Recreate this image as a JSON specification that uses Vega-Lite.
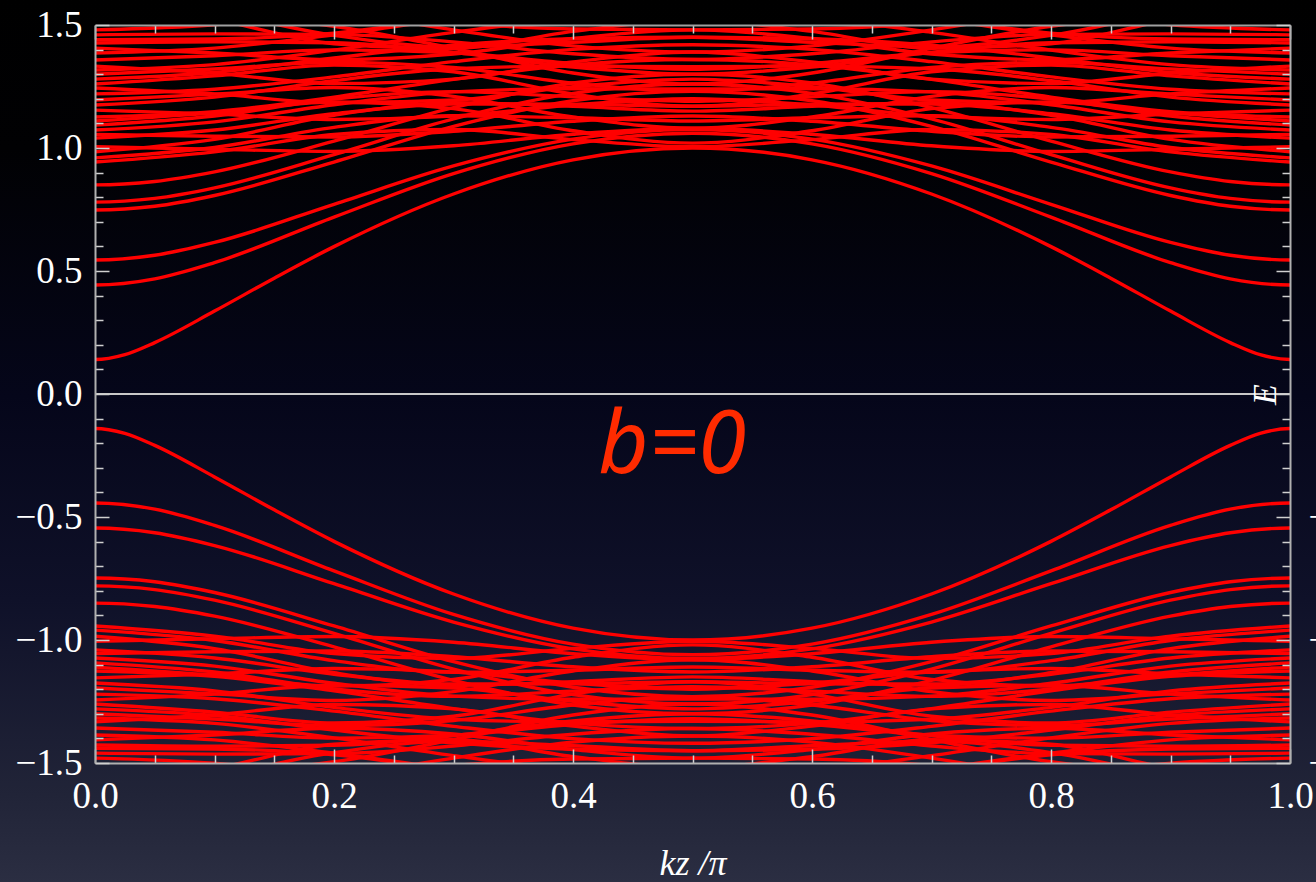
{
"$schema": "https://vega.github.io/schema/vega-lite/v6.json",
"width": 1195,
"height": 738,
"autosize": {"type": "none"},
"padding": {"left": 95, "top": 25, "right": 26, "bottom": 119},
"background": "#05061a",
"config": {"view": {"stroke": null}},
"resolve": {"axis": {"x": "independent", "y": "independent"}},
"layer": [
{
"data": {"values": [{}]},
"mark": {"type": "rect", "clip": false, "fill": {"gradient": "linear", "x1": 0, "y1": 0, "x2": 0, "y2": 1, "stops": [{"offset": 0, "color": "#000000"}, {"offset": 0.17, "color": "#010103"}, {"offset": 0.45, "color": "#05061a"}, {"offset": 0.68, "color": "#0f1129"}, {"offset": 0.9, "color": "#212438"}, {"offset": 1, "color": "#2b2e42"}]}},
"encoding": {
"x": {"datum": -0.08, "type": "quantitative", "axis": null, "scale": {"domain": [0, 1], "nice": false, "zero": false}},
"x2": {"datum": 1.025},
"y": {"datum": 1.61, "type": "quantitative", "axis": null, "scale": {"domain": [-1.5, 1.5], "nice": false, "zero": false}},
"y2": {"datum": -1.99}
}
},
{
"data": {"values": [
{"k":-0.05,"E":0.209,"n":1},{"k":-0.025,"E":0.16,"n":1},{"k":0,"E":0.14,"n":1},{"k":0.025,"E":0.16,"n":1},{"k":0.05,"E":0.209,"n":1},{"k":0.1,"E":0.337,"n":1},{"k":0.15,"E":0.471,"n":1},{"k":0.2,"E":0.599,"n":1},{"k":0.3,"E":0.813,"n":1},{"k":0.4,"E":0.952,"n":1},{"k":0.5,"E":1.0,"n":1},{"k":0.6,"E":0.952,"n":1},{"k":0.7,"E":0.813,"n":1},{"k":0.8,"E":0.599,"n":1},{"k":0.85,"E":0.471,"n":1},{"k":0.9,"E":0.337,"n":1},{"k":0.95,"E":0.209,"n":1},{"k":0.975,"E":0.16,"n":1},{"k":1,"E":0.14,"n":1},{"k":1.025,"E":0.16,"n":1},{"k":1.05,"E":0.209,"n":1},
{"k":-0.05,"E":0.468,"n":2},{"k":0,"E":0.443,"n":2},{"k":0.05,"E":0.468,"n":2},{"k":0.1,"E":0.534,"n":2},{"k":0.2,"E":0.719,"n":2},{"k":0.3,"E":0.896,"n":2},{"k":0.4,"E":1.017,"n":2},{"k":0.5,"E":1.06,"n":2},{"k":0.6,"E":1.017,"n":2},{"k":0.7,"E":0.896,"n":2},{"k":0.8,"E":0.719,"n":2},{"k":0.9,"E":0.534,"n":2},{"k":0.95,"E":0.468,"n":2},{"k":1,"E":0.443,"n":2},{"k":1.05,"E":0.468,"n":2},
{"k":-0.05,"E":0.564,"n":3},{"k":0,"E":0.545,"n":3},{"k":0.05,"E":0.564,"n":3},{"k":0.1,"E":0.616,"n":3},{"k":0.2,"E":0.771,"n":3},{"k":0.3,"E":0.927,"n":3},{"k":0.4,"E":1.036,"n":3},{"k":0.5,"E":1.075,"n":3},{"k":0.6,"E":1.036,"n":3},{"k":0.7,"E":0.927,"n":3},{"k":0.8,"E":0.771,"n":3},{"k":0.9,"E":0.616,"n":3},{"k":0.95,"E":0.564,"n":3},{"k":1,"E":0.545,"n":3},{"k":1.05,"E":0.564,"n":3},
{"k":-0.05,"E":0.763,"n":4},{"k":0,"E":0.748,"n":4},{"k":0.05,"E":0.763,"n":4},{"k":0.1,"E":0.807,"n":4},{"k":0.2,"E":0.943,"n":4},{"k":0.3,"E":1.088,"n":4},{"k":0.4,"E":1.192,"n":4},{"k":0.5,"E":1.23,"n":4},{"k":0.6,"E":1.192,"n":4},{"k":0.7,"E":1.088,"n":4},{"k":0.8,"E":0.943,"n":4},{"k":0.9,"E":0.807,"n":4},{"k":0.95,"E":0.763,"n":4},{"k":1,"E":0.748,"n":4},{"k":1.05,"E":0.763,"n":4},
{"k":-0.05,"E":0.795,"n":5},{"k":0,"E":0.78,"n":5},{"k":0.05,"E":0.795,"n":5},{"k":0.1,"E":0.838,"n":5},{"k":0.2,"E":0.973,"n":5},{"k":0.3,"E":1.118,"n":5},{"k":0.4,"E":1.222,"n":5},{"k":0.5,"E":1.26,"n":5},{"k":0.6,"E":1.222,"n":5},{"k":0.7,"E":1.118,"n":5},{"k":0.8,"E":0.973,"n":5},{"k":0.9,"E":0.838,"n":5},{"k":0.95,"E":0.795,"n":5},{"k":1,"E":0.78,"n":5},{"k":1.05,"E":0.795,"n":5},
{"k":-0.05,"E":0.864,"n":6},{"k":0,"E":0.85,"n":6},{"k":0.05,"E":0.864,"n":6},{"k":0.1,"E":0.903,"n":6},{"k":0.2,"E":1.028,"n":6},{"k":0.3,"E":1.164,"n":6},{"k":0.4,"E":1.264,"n":6},{"k":0.5,"E":1.3,"n":6},{"k":0.6,"E":1.264,"n":6},{"k":0.7,"E":1.164,"n":6},{"k":0.8,"E":1.028,"n":6},{"k":0.9,"E":0.903,"n":6},{"k":0.95,"E":0.864,"n":6},{"k":1,"E":0.85,"n":6},{"k":1.05,"E":0.864,"n":6},
{"k":0,"E":0.943,"n":7},{"k":0.1,"E":0.984,"n":7},{"k":0.2,"E":1.055,"n":7},{"k":0.3,"E":1.075,"n":7},{"k":0.4,"E":1.034,"n":7},{"k":0.5,"E":1.005,"n":7},{"k":0.6,"E":1.034,"n":7},{"k":0.7,"E":1.075,"n":7},{"k":0.8,"E":1.055,"n":7},{"k":0.9,"E":0.984,"n":7},{"k":1,"E":0.943,"n":7},
{"k":0,"E":0.96,"n":8},{"k":0.1,"E":1.002,"n":8},{"k":0.2,"E":1.084,"n":8},{"k":0.3,"E":1.131,"n":8},{"k":0.4,"E":1.123,"n":8},{"k":0.5,"E":1.11,"n":8},{"k":0.6,"E":1.123,"n":8},{"k":0.7,"E":1.131,"n":8},{"k":0.8,"E":1.084,"n":8},{"k":0.9,"E":1.002,"n":8},{"k":1,"E":0.96,"n":8},
{"k":0,"E":0.985,"n":9},{"k":0.1,"E":1.035,"n":9},{"k":0.2,"E":1.133,"n":9},{"k":0.3,"E":1.184,"n":9},{"k":0.4,"E":1.169,"n":9},{"k":0.5,"E":1.15,"n":9},{"k":0.6,"E":1.169,"n":9},{"k":0.7,"E":1.184,"n":9},{"k":0.8,"E":1.133,"n":9},{"k":0.9,"E":1.035,"n":9},{"k":1,"E":0.985,"n":9},
{"k":0,"E":1.005,"n":10},{"k":0.1,"E":0.995,"n":10},{"k":0.2,"E":0.986,"n":10},{"k":0.3,"E":1.009,"n":10},{"k":0.4,"E":1.056,"n":10},{"k":0.5,"E":1.08,"n":10},{"k":0.6,"E":1.056,"n":10},{"k":0.7,"E":1.009,"n":10},{"k":0.8,"E":0.986,"n":10},{"k":0.9,"E":0.995,"n":10},{"k":1,"E":1.005,"n":10},
{"k":0,"E":1.04,"n":11},{"k":0.1,"E":1.073,"n":11},{"k":0.2,"E":1.139,"n":11},{"k":0.3,"E":1.179,"n":11},{"k":0.4,"E":1.178,"n":11},{"k":0.5,"E":1.17,"n":11},{"k":0.6,"E":1.178,"n":11},{"k":0.7,"E":1.179,"n":11},{"k":0.8,"E":1.139,"n":11},{"k":0.9,"E":1.073,"n":11},{"k":1,"E":1.04,"n":11},
{"k":0,"E":1.055,"n":12},{"k":0.1,"E":1.048,"n":12},{"k":0.2,"E":1.045,"n":12},{"k":0.3,"E":1.068,"n":12},{"k":0.4,"E":1.109,"n":12},{"k":0.5,"E":1.13,"n":12},{"k":0.6,"E":1.109,"n":12},{"k":0.7,"E":1.068,"n":12},{"k":0.8,"E":1.045,"n":12},{"k":0.9,"E":1.048,"n":12},{"k":1,"E":1.055,"n":12},
{"k":0,"E":1.073,"n":13},{"k":0.1,"E":1.106,"n":13},{"k":0.2,"E":1.176,"n":13},{"k":0.3,"E":1.228,"n":13},{"k":0.4,"E":1.241,"n":13},{"k":0.5,"E":1.24,"n":13},{"k":0.6,"E":1.241,"n":13},{"k":0.7,"E":1.228,"n":13},{"k":0.8,"E":1.176,"n":13},{"k":0.9,"E":1.106,"n":13},{"k":1,"E":1.073,"n":13},
{"k":0,"E":1.093,"n":14},{"k":0.1,"E":1.13,"n":14},{"k":0.2,"E":1.199,"n":14},{"k":0.3,"E":1.229,"n":14},{"k":0.4,"E":1.208,"n":14},{"k":0.5,"E":1.19,"n":14},{"k":0.6,"E":1.208,"n":14},{"k":0.7,"E":1.229,"n":14},{"k":0.8,"E":1.199,"n":14},{"k":0.9,"E":1.13,"n":14},{"k":1,"E":1.093,"n":14},
{"k":0,"E":1.11,"n":15},{"k":0.1,"E":1.143,"n":15},{"k":0.2,"E":1.187,"n":15},{"k":0.3,"E":1.16,"n":15},{"k":0.4,"E":1.07,"n":15},{"k":0.5,"E":1.02,"n":15},{"k":0.6,"E":1.07,"n":15},{"k":0.7,"E":1.16,"n":15},{"k":0.8,"E":1.187,"n":15},{"k":0.9,"E":1.143,"n":15},{"k":1,"E":1.11,"n":15},
{"k":0,"E":1.126,"n":16},{"k":0.1,"E":1.148,"n":16},{"k":0.2,"E":1.207,"n":16},{"k":0.3,"E":1.279,"n":16},{"k":0.4,"E":1.338,"n":16},{"k":0.5,"E":1.36,"n":16},{"k":0.6,"E":1.338,"n":16},{"k":0.7,"E":1.279,"n":16},{"k":0.8,"E":1.207,"n":16},{"k":0.9,"E":1.148,"n":16},{"k":1,"E":1.126,"n":16},
{"k":0,"E":1.154,"n":17},{"k":0.1,"E":1.138,"n":17},{"k":0.2,"E":1.116,"n":17},{"k":0.3,"E":1.13,"n":17},{"k":0.4,"E":1.175,"n":17},{"k":0.5,"E":1.2,"n":17},{"k":0.6,"E":1.175,"n":17},{"k":0.7,"E":1.13,"n":17},{"k":0.8,"E":1.116,"n":17},{"k":0.9,"E":1.138,"n":17},{"k":1,"E":1.154,"n":17},
{"k":0,"E":1.175,"n":18},{"k":0.1,"E":1.207,"n":18},{"k":0.2,"E":1.274,"n":18},{"k":0.3,"E":1.322,"n":18},{"k":0.4,"E":1.333,"n":18},{"k":0.5,"E":1.33,"n":18},{"k":0.6,"E":1.333,"n":18},{"k":0.7,"E":1.322,"n":18},{"k":0.8,"E":1.274,"n":18},{"k":0.9,"E":1.207,"n":18},{"k":1,"E":1.175,"n":18},
{"k":0,"E":1.195,"n":19},{"k":0.1,"E":1.219,"n":19},{"k":0.2,"E":1.246,"n":19},{"k":0.3,"E":1.21,"n":19},{"k":0.4,"E":1.126,"n":19},{"k":0.5,"E":1.08,"n":19},{"k":0.6,"E":1.126,"n":19},{"k":0.7,"E":1.21,"n":19},{"k":0.8,"E":1.246,"n":19},{"k":0.9,"E":1.219,"n":19},{"k":1,"E":1.195,"n":19},
{"k":0,"E":1.22,"n":20},{"k":0.1,"E":1.239,"n":20},{"k":0.2,"E":1.289,"n":20},{"k":0.3,"E":1.351,"n":20},{"k":0.4,"E":1.401,"n":20},{"k":0.5,"E":1.42,"n":20},{"k":0.6,"E":1.401,"n":20},{"k":0.7,"E":1.351,"n":20},{"k":0.8,"E":1.289,"n":20},{"k":0.9,"E":1.239,"n":20},{"k":1,"E":1.22,"n":20},
{"k":0,"E":1.244,"n":21},{"k":0.1,"E":1.22,"n":21},{"k":0.2,"E":1.184,"n":21},{"k":0.3,"E":1.195,"n":21},{"k":0.4,"E":1.249,"n":21},{"k":0.5,"E":1.28,"n":21},{"k":0.6,"E":1.249,"n":21},{"k":0.7,"E":1.195,"n":21},{"k":0.8,"E":1.184,"n":21},{"k":0.9,"E":1.22,"n":21},{"k":1,"E":1.244,"n":21},
{"k":0,"E":1.26,"n":22},{"k":0.1,"E":1.293,"n":22},{"k":0.2,"E":1.337,"n":22},{"k":0.3,"E":1.31,"n":22},{"k":0.4,"E":1.22,"n":22},{"k":0.5,"E":1.17,"n":22},{"k":0.6,"E":1.22,"n":22},{"k":0.7,"E":1.31,"n":22},{"k":0.8,"E":1.337,"n":22},{"k":0.9,"E":1.293,"n":22},{"k":1,"E":1.26,"n":22},
{"k":0,"E":1.28,"n":23},{"k":0.1,"E":1.307,"n":23},{"k":0.2,"E":1.366,"n":23},{"k":0.3,"E":1.418,"n":23},{"k":0.4,"E":1.444,"n":23},{"k":0.5,"E":1.45,"n":23},{"k":0.6,"E":1.444,"n":23},{"k":0.7,"E":1.418,"n":23},{"k":0.8,"E":1.366,"n":23},{"k":0.9,"E":1.307,"n":23},{"k":1,"E":1.28,"n":23},
{"k":0,"E":1.3,"n":24},{"k":0.1,"E":1.321,"n":24},{"k":0.2,"E":1.348,"n":24},{"k":0.3,"E":1.327,"n":24},{"k":0.4,"E":1.264,"n":24},{"k":0.5,"E":1.23,"n":24},{"k":0.6,"E":1.264,"n":24},{"k":0.7,"E":1.327,"n":24},{"k":0.8,"E":1.348,"n":24},{"k":0.9,"E":1.321,"n":24},{"k":1,"E":1.3,"n":24},
{"k":0,"E":1.317,"n":25},{"k":0.1,"E":1.339,"n":25},{"k":0.2,"E":1.398,"n":25},{"k":0.3,"E":1.47,"n":25},{"k":0.4,"E":1.528,"n":25},{"k":0.5,"E":1.55,"n":25},{"k":0.6,"E":1.528,"n":25},{"k":0.7,"E":1.47,"n":25},{"k":0.8,"E":1.398,"n":25},{"k":0.9,"E":1.339,"n":25},{"k":1,"E":1.317,"n":25},
{"k":0,"E":1.333,"n":26},{"k":0.1,"E":1.304,"n":26},{"k":0.2,"E":1.262,"n":26},{"k":0.3,"E":1.28,"n":26},{"k":0.4,"E":1.35,"n":26},{"k":0.5,"E":1.39,"n":26},{"k":0.6,"E":1.35,"n":26},{"k":0.7,"E":1.28,"n":26},{"k":0.8,"E":1.262,"n":26},{"k":0.9,"E":1.304,"n":26},{"k":1,"E":1.333,"n":26},
{"k":0,"E":1.358,"n":27},{"k":0.1,"E":1.375,"n":27},{"k":0.2,"E":1.399,"n":27},{"k":0.3,"E":1.387,"n":27},{"k":0.4,"E":1.344,"n":27},{"k":0.5,"E":1.32,"n":27},{"k":0.6,"E":1.344,"n":27},{"k":0.7,"E":1.387,"n":27},{"k":0.8,"E":1.399,"n":27},{"k":0.9,"E":1.375,"n":27},{"k":1,"E":1.358,"n":27},
{"k":0,"E":1.386,"n":28},{"k":0.1,"E":1.406,"n":28},{"k":0.2,"E":1.46,"n":28},{"k":0.3,"E":1.526,"n":28},{"k":0.4,"E":1.58,"n":28},{"k":0.5,"E":1.6,"n":28},{"k":0.6,"E":1.58,"n":28},{"k":0.7,"E":1.526,"n":28},{"k":0.8,"E":1.46,"n":28},{"k":0.9,"E":1.406,"n":28},{"k":1,"E":1.386,"n":28},
{"k":0,"E":1.406,"n":29},{"k":0.1,"E":1.386,"n":29},{"k":0.2,"E":1.359,"n":29},{"k":0.3,"E":1.382,"n":29},{"k":0.4,"E":1.445,"n":29},{"k":0.5,"E":1.48,"n":29},{"k":0.6,"E":1.445,"n":29},{"k":0.7,"E":1.382,"n":29},{"k":0.8,"E":1.359,"n":29},{"k":0.9,"E":1.386,"n":29},{"k":1,"E":1.406,"n":29},
{"k":0,"E":1.427,"n":30},{"k":0.1,"E":1.432,"n":30},{"k":0.2,"E":1.428,"n":30},{"k":0.3,"E":1.389,"n":30},{"k":0.4,"E":1.329,"n":30},{"k":0.5,"E":1.3,"n":30},{"k":0.6,"E":1.329,"n":30},{"k":0.7,"E":1.389,"n":30},{"k":0.8,"E":1.428,"n":30},{"k":0.9,"E":1.432,"n":30},{"k":1,"E":1.427,"n":30},
{"k":0,"E":1.44,"n":31},{"k":0.1,"E":1.443,"n":31},{"k":0.2,"E":1.467,"n":31},{"k":0.3,"E":1.532,"n":31},{"k":0.4,"E":1.613,"n":31},{"k":0.5,"E":1.65,"n":31},{"k":0.6,"E":1.613,"n":31},{"k":0.7,"E":1.532,"n":31},{"k":0.8,"E":1.467,"n":31},{"k":0.9,"E":1.443,"n":31},{"k":1,"E":1.44,"n":31},
{"k":0,"E":1.46,"n":32},{"k":0.1,"E":1.464,"n":32},{"k":0.2,"E":1.462,"n":32},{"k":0.3,"E":1.431,"n":32},{"k":0.4,"E":1.383,"n":32},{"k":0.5,"E":1.36,"n":32},{"k":0.6,"E":1.383,"n":32},{"k":0.7,"E":1.431,"n":32},{"k":0.8,"E":1.462,"n":32},{"k":0.9,"E":1.464,"n":32},{"k":1,"E":1.46,"n":32},
{"k":0,"E":1.48,"n":33},{"k":0.1,"E":1.501,"n":33},{"k":0.2,"E":1.556,"n":33},{"k":0.3,"E":1.624,"n":33},{"k":0.4,"E":1.679,"n":33},{"k":0.5,"E":1.7,"n":33},{"k":0.6,"E":1.679,"n":33},{"k":0.7,"E":1.624,"n":33},{"k":0.8,"E":1.556,"n":33},{"k":0.9,"E":1.501,"n":33},{"k":1,"E":1.48,"n":33},
{"k":0,"E":1.55,"n":34},{"k":0.1,"E":1.54,"n":34},{"k":0.2,"E":1.495,"n":34},{"k":0.3,"E":1.405,"n":34},{"k":0.4,"E":1.305,"n":34},{"k":0.5,"E":1.26,"n":34},{"k":0.6,"E":1.305,"n":34},{"k":0.7,"E":1.405,"n":34},{"k":0.8,"E":1.495,"n":34},{"k":0.9,"E":1.54,"n":34},{"k":1,"E":1.55,"n":34},
{"k":0,"E":1.6,"n":35},{"k":0.1,"E":1.551,"n":35},{"k":0.2,"E":1.458,"n":35},{"k":0.3,"E":1.411,"n":35},{"k":0.4,"E":1.43,"n":35},{"k":0.5,"E":1.45,"n":35},{"k":0.6,"E":1.43,"n":35},{"k":0.7,"E":1.411,"n":35},{"k":0.8,"E":1.458,"n":35},{"k":0.9,"E":1.551,"n":35},{"k":1,"E":1.6,"n":35},
{"k":0,"E":1.65,"n":36},{"k":0.1,"E":1.625,"n":36},{"k":0.2,"E":1.56,"n":36},{"k":0.3,"E":1.48,"n":36},{"k":0.4,"E":1.415,"n":36},{"k":0.5,"E":1.39,"n":36},{"k":0.6,"E":1.415,"n":36},{"k":0.7,"E":1.48,"n":36},{"k":0.8,"E":1.56,"n":36},{"k":0.9,"E":1.625,"n":36},{"k":1,"E":1.65,"n":36},
{"k":0,"E":1.7,"n":37},{"k":0.1,"E":1.662,"n":37},{"k":0.2,"E":1.579,"n":37},{"k":0.3,"E":1.511,"n":37},{"k":0.4,"E":1.484,"n":37},{"k":0.5,"E":1.48,"n":37},{"k":0.6,"E":1.484,"n":37},{"k":0.7,"E":1.511,"n":37},{"k":0.8,"E":1.579,"n":37},{"k":0.9,"E":1.662,"n":37},{"k":1,"E":1.7,"n":37},
{"k":0,"E":1.58,"n":38},{"k":0.1,"E":1.522,"n":38},{"k":0.2,"E":1.424,"n":38},{"k":0.3,"E":1.405,"n":38},{"k":0.4,"E":1.474,"n":38},{"k":0.5,"E":1.52,"n":38},{"k":0.6,"E":1.474,"n":38},{"k":0.7,"E":1.405,"n":38},{"k":0.8,"E":1.424,"n":38},{"k":0.9,"E":1.522,"n":38},{"k":1,"E":1.58,"n":38},
{"k":-0.05,"E":-0.209,"n":-1},{"k":-0.025,"E":-0.16,"n":-1},{"k":0,"E":-0.14,"n":-1},{"k":0.025,"E":-0.16,"n":-1},{"k":0.05,"E":-0.209,"n":-1},{"k":0.1,"E":-0.337,"n":-1},{"k":0.15,"E":-0.471,"n":-1},{"k":0.2,"E":-0.599,"n":-1},{"k":0.3,"E":-0.813,"n":-1},{"k":0.4,"E":-0.952,"n":-1},{"k":0.5,"E":-1.0,"n":-1},{"k":0.6,"E":-0.952,"n":-1},{"k":0.7,"E":-0.813,"n":-1},{"k":0.8,"E":-0.599,"n":-1},{"k":0.85,"E":-0.471,"n":-1},{"k":0.9,"E":-0.337,"n":-1},{"k":0.95,"E":-0.209,"n":-1},{"k":0.975,"E":-0.16,"n":-1},{"k":1,"E":-0.14,"n":-1},{"k":1.025,"E":-0.16,"n":-1},{"k":1.05,"E":-0.209,"n":-1},
{"k":-0.05,"E":-0.468,"n":-2},{"k":0,"E":-0.443,"n":-2},{"k":0.05,"E":-0.468,"n":-2},{"k":0.1,"E":-0.534,"n":-2},{"k":0.2,"E":-0.719,"n":-2},{"k":0.3,"E":-0.896,"n":-2},{"k":0.4,"E":-1.017,"n":-2},{"k":0.5,"E":-1.06,"n":-2},{"k":0.6,"E":-1.017,"n":-2},{"k":0.7,"E":-0.896,"n":-2},{"k":0.8,"E":-0.719,"n":-2},{"k":0.9,"E":-0.534,"n":-2},{"k":0.95,"E":-0.468,"n":-2},{"k":1,"E":-0.443,"n":-2},{"k":1.05,"E":-0.468,"n":-2},
{"k":-0.05,"E":-0.564,"n":-3},{"k":0,"E":-0.545,"n":-3},{"k":0.05,"E":-0.564,"n":-3},{"k":0.1,"E":-0.616,"n":-3},{"k":0.2,"E":-0.771,"n":-3},{"k":0.3,"E":-0.927,"n":-3},{"k":0.4,"E":-1.036,"n":-3},{"k":0.5,"E":-1.075,"n":-3},{"k":0.6,"E":-1.036,"n":-3},{"k":0.7,"E":-0.927,"n":-3},{"k":0.8,"E":-0.771,"n":-3},{"k":0.9,"E":-0.616,"n":-3},{"k":0.95,"E":-0.564,"n":-3},{"k":1,"E":-0.545,"n":-3},{"k":1.05,"E":-0.564,"n":-3},
{"k":-0.05,"E":-0.763,"n":-4},{"k":0,"E":-0.748,"n":-4},{"k":0.05,"E":-0.763,"n":-4},{"k":0.1,"E":-0.807,"n":-4},{"k":0.2,"E":-0.943,"n":-4},{"k":0.3,"E":-1.088,"n":-4},{"k":0.4,"E":-1.192,"n":-4},{"k":0.5,"E":-1.23,"n":-4},{"k":0.6,"E":-1.192,"n":-4},{"k":0.7,"E":-1.088,"n":-4},{"k":0.8,"E":-0.943,"n":-4},{"k":0.9,"E":-0.807,"n":-4},{"k":0.95,"E":-0.763,"n":-4},{"k":1,"E":-0.748,"n":-4},{"k":1.05,"E":-0.763,"n":-4},
{"k":-0.05,"E":-0.795,"n":-5},{"k":0,"E":-0.78,"n":-5},{"k":0.05,"E":-0.795,"n":-5},{"k":0.1,"E":-0.838,"n":-5},{"k":0.2,"E":-0.973,"n":-5},{"k":0.3,"E":-1.118,"n":-5},{"k":0.4,"E":-1.222,"n":-5},{"k":0.5,"E":-1.26,"n":-5},{"k":0.6,"E":-1.222,"n":-5},{"k":0.7,"E":-1.118,"n":-5},{"k":0.8,"E":-0.973,"n":-5},{"k":0.9,"E":-0.838,"n":-5},{"k":0.95,"E":-0.795,"n":-5},{"k":1,"E":-0.78,"n":-5},{"k":1.05,"E":-0.795,"n":-5},
{"k":-0.05,"E":-0.864,"n":-6},{"k":0,"E":-0.85,"n":-6},{"k":0.05,"E":-0.864,"n":-6},{"k":0.1,"E":-0.903,"n":-6},{"k":0.2,"E":-1.028,"n":-6},{"k":0.3,"E":-1.164,"n":-6},{"k":0.4,"E":-1.264,"n":-6},{"k":0.5,"E":-1.3,"n":-6},{"k":0.6,"E":-1.264,"n":-6},{"k":0.7,"E":-1.164,"n":-6},{"k":0.8,"E":-1.028,"n":-6},{"k":0.9,"E":-0.903,"n":-6},{"k":0.95,"E":-0.864,"n":-6},{"k":1,"E":-0.85,"n":-6},{"k":1.05,"E":-0.864,"n":-6},
{"k":0,"E":-0.943,"n":-7},{"k":0.1,"E":-0.984,"n":-7},{"k":0.2,"E":-1.055,"n":-7},{"k":0.3,"E":-1.075,"n":-7},{"k":0.4,"E":-1.034,"n":-7},{"k":0.5,"E":-1.005,"n":-7},{"k":0.6,"E":-1.034,"n":-7},{"k":0.7,"E":-1.075,"n":-7},{"k":0.8,"E":-1.055,"n":-7},{"k":0.9,"E":-0.984,"n":-7},{"k":1,"E":-0.943,"n":-7},
{"k":0,"E":-0.96,"n":-8},{"k":0.1,"E":-1.002,"n":-8},{"k":0.2,"E":-1.084,"n":-8},{"k":0.3,"E":-1.131,"n":-8},{"k":0.4,"E":-1.123,"n":-8},{"k":0.5,"E":-1.11,"n":-8},{"k":0.6,"E":-1.123,"n":-8},{"k":0.7,"E":-1.131,"n":-8},{"k":0.8,"E":-1.084,"n":-8},{"k":0.9,"E":-1.002,"n":-8},{"k":1,"E":-0.96,"n":-8},
{"k":0,"E":-0.985,"n":-9},{"k":0.1,"E":-1.035,"n":-9},{"k":0.2,"E":-1.133,"n":-9},{"k":0.3,"E":-1.184,"n":-9},{"k":0.4,"E":-1.169,"n":-9},{"k":0.5,"E":-1.15,"n":-9},{"k":0.6,"E":-1.169,"n":-9},{"k":0.7,"E":-1.184,"n":-9},{"k":0.8,"E":-1.133,"n":-9},{"k":0.9,"E":-1.035,"n":-9},{"k":1,"E":-0.985,"n":-9},
{"k":0,"E":-1.005,"n":-10},{"k":0.1,"E":-0.995,"n":-10},{"k":0.2,"E":-0.986,"n":-10},{"k":0.3,"E":-1.009,"n":-10},{"k":0.4,"E":-1.056,"n":-10},{"k":0.5,"E":-1.08,"n":-10},{"k":0.6,"E":-1.056,"n":-10},{"k":0.7,"E":-1.009,"n":-10},{"k":0.8,"E":-0.986,"n":-10},{"k":0.9,"E":-0.995,"n":-10},{"k":1,"E":-1.005,"n":-10},
{"k":0,"E":-1.04,"n":-11},{"k":0.1,"E":-1.073,"n":-11},{"k":0.2,"E":-1.139,"n":-11},{"k":0.3,"E":-1.179,"n":-11},{"k":0.4,"E":-1.178,"n":-11},{"k":0.5,"E":-1.17,"n":-11},{"k":0.6,"E":-1.178,"n":-11},{"k":0.7,"E":-1.179,"n":-11},{"k":0.8,"E":-1.139,"n":-11},{"k":0.9,"E":-1.073,"n":-11},{"k":1,"E":-1.04,"n":-11},
{"k":0,"E":-1.055,"n":-12},{"k":0.1,"E":-1.048,"n":-12},{"k":0.2,"E":-1.045,"n":-12},{"k":0.3,"E":-1.068,"n":-12},{"k":0.4,"E":-1.109,"n":-12},{"k":0.5,"E":-1.13,"n":-12},{"k":0.6,"E":-1.109,"n":-12},{"k":0.7,"E":-1.068,"n":-12},{"k":0.8,"E":-1.045,"n":-12},{"k":0.9,"E":-1.048,"n":-12},{"k":1,"E":-1.055,"n":-12},
{"k":0,"E":-1.073,"n":-13},{"k":0.1,"E":-1.106,"n":-13},{"k":0.2,"E":-1.176,"n":-13},{"k":0.3,"E":-1.228,"n":-13},{"k":0.4,"E":-1.241,"n":-13},{"k":0.5,"E":-1.24,"n":-13},{"k":0.6,"E":-1.241,"n":-13},{"k":0.7,"E":-1.228,"n":-13},{"k":0.8,"E":-1.176,"n":-13},{"k":0.9,"E":-1.106,"n":-13},{"k":1,"E":-1.073,"n":-13},
{"k":0,"E":-1.093,"n":-14},{"k":0.1,"E":-1.13,"n":-14},{"k":0.2,"E":-1.199,"n":-14},{"k":0.3,"E":-1.229,"n":-14},{"k":0.4,"E":-1.208,"n":-14},{"k":0.5,"E":-1.19,"n":-14},{"k":0.6,"E":-1.208,"n":-14},{"k":0.7,"E":-1.229,"n":-14},{"k":0.8,"E":-1.199,"n":-14},{"k":0.9,"E":-1.13,"n":-14},{"k":1,"E":-1.093,"n":-14},
{"k":0,"E":-1.11,"n":-15},{"k":0.1,"E":-1.143,"n":-15},{"k":0.2,"E":-1.187,"n":-15},{"k":0.3,"E":-1.16,"n":-15},{"k":0.4,"E":-1.07,"n":-15},{"k":0.5,"E":-1.02,"n":-15},{"k":0.6,"E":-1.07,"n":-15},{"k":0.7,"E":-1.16,"n":-15},{"k":0.8,"E":-1.187,"n":-15},{"k":0.9,"E":-1.143,"n":-15},{"k":1,"E":-1.11,"n":-15},
{"k":0,"E":-1.126,"n":-16},{"k":0.1,"E":-1.148,"n":-16},{"k":0.2,"E":-1.207,"n":-16},{"k":0.3,"E":-1.279,"n":-16},{"k":0.4,"E":-1.338,"n":-16},{"k":0.5,"E":-1.36,"n":-16},{"k":0.6,"E":-1.338,"n":-16},{"k":0.7,"E":-1.279,"n":-16},{"k":0.8,"E":-1.207,"n":-16},{"k":0.9,"E":-1.148,"n":-16},{"k":1,"E":-1.126,"n":-16},
{"k":0,"E":-1.154,"n":-17},{"k":0.1,"E":-1.138,"n":-17},{"k":0.2,"E":-1.116,"n":-17},{"k":0.3,"E":-1.13,"n":-17},{"k":0.4,"E":-1.175,"n":-17},{"k":0.5,"E":-1.2,"n":-17},{"k":0.6,"E":-1.175,"n":-17},{"k":0.7,"E":-1.13,"n":-17},{"k":0.8,"E":-1.116,"n":-17},{"k":0.9,"E":-1.138,"n":-17},{"k":1,"E":-1.154,"n":-17},
{"k":0,"E":-1.175,"n":-18},{"k":0.1,"E":-1.207,"n":-18},{"k":0.2,"E":-1.274,"n":-18},{"k":0.3,"E":-1.322,"n":-18},{"k":0.4,"E":-1.333,"n":-18},{"k":0.5,"E":-1.33,"n":-18},{"k":0.6,"E":-1.333,"n":-18},{"k":0.7,"E":-1.322,"n":-18},{"k":0.8,"E":-1.274,"n":-18},{"k":0.9,"E":-1.207,"n":-18},{"k":1,"E":-1.175,"n":-18},
{"k":0,"E":-1.195,"n":-19},{"k":0.1,"E":-1.219,"n":-19},{"k":0.2,"E":-1.246,"n":-19},{"k":0.3,"E":-1.21,"n":-19},{"k":0.4,"E":-1.126,"n":-19},{"k":0.5,"E":-1.08,"n":-19},{"k":0.6,"E":-1.126,"n":-19},{"k":0.7,"E":-1.21,"n":-19},{"k":0.8,"E":-1.246,"n":-19},{"k":0.9,"E":-1.219,"n":-19},{"k":1,"E":-1.195,"n":-19},
{"k":0,"E":-1.22,"n":-20},{"k":0.1,"E":-1.239,"n":-20},{"k":0.2,"E":-1.289,"n":-20},{"k":0.3,"E":-1.351,"n":-20},{"k":0.4,"E":-1.401,"n":-20},{"k":0.5,"E":-1.42,"n":-20},{"k":0.6,"E":-1.401,"n":-20},{"k":0.7,"E":-1.351,"n":-20},{"k":0.8,"E":-1.289,"n":-20},{"k":0.9,"E":-1.239,"n":-20},{"k":1,"E":-1.22,"n":-20},
{"k":0,"E":-1.244,"n":-21},{"k":0.1,"E":-1.22,"n":-21},{"k":0.2,"E":-1.184,"n":-21},{"k":0.3,"E":-1.195,"n":-21},{"k":0.4,"E":-1.249,"n":-21},{"k":0.5,"E":-1.28,"n":-21},{"k":0.6,"E":-1.249,"n":-21},{"k":0.7,"E":-1.195,"n":-21},{"k":0.8,"E":-1.184,"n":-21},{"k":0.9,"E":-1.22,"n":-21},{"k":1,"E":-1.244,"n":-21},
{"k":0,"E":-1.26,"n":-22},{"k":0.1,"E":-1.293,"n":-22},{"k":0.2,"E":-1.337,"n":-22},{"k":0.3,"E":-1.31,"n":-22},{"k":0.4,"E":-1.22,"n":-22},{"k":0.5,"E":-1.17,"n":-22},{"k":0.6,"E":-1.22,"n":-22},{"k":0.7,"E":-1.31,"n":-22},{"k":0.8,"E":-1.337,"n":-22},{"k":0.9,"E":-1.293,"n":-22},{"k":1,"E":-1.26,"n":-22},
{"k":0,"E":-1.28,"n":-23},{"k":0.1,"E":-1.307,"n":-23},{"k":0.2,"E":-1.366,"n":-23},{"k":0.3,"E":-1.418,"n":-23},{"k":0.4,"E":-1.444,"n":-23},{"k":0.5,"E":-1.45,"n":-23},{"k":0.6,"E":-1.444,"n":-23},{"k":0.7,"E":-1.418,"n":-23},{"k":0.8,"E":-1.366,"n":-23},{"k":0.9,"E":-1.307,"n":-23},{"k":1,"E":-1.28,"n":-23},
{"k":0,"E":-1.3,"n":-24},{"k":0.1,"E":-1.321,"n":-24},{"k":0.2,"E":-1.348,"n":-24},{"k":0.3,"E":-1.327,"n":-24},{"k":0.4,"E":-1.264,"n":-24},{"k":0.5,"E":-1.23,"n":-24},{"k":0.6,"E":-1.264,"n":-24},{"k":0.7,"E":-1.327,"n":-24},{"k":0.8,"E":-1.348,"n":-24},{"k":0.9,"E":-1.321,"n":-24},{"k":1,"E":-1.3,"n":-24},
{"k":0,"E":-1.317,"n":-25},{"k":0.1,"E":-1.339,"n":-25},{"k":0.2,"E":-1.398,"n":-25},{"k":0.3,"E":-1.47,"n":-25},{"k":0.4,"E":-1.528,"n":-25},{"k":0.5,"E":-1.55,"n":-25},{"k":0.6,"E":-1.528,"n":-25},{"k":0.7,"E":-1.47,"n":-25},{"k":0.8,"E":-1.398,"n":-25},{"k":0.9,"E":-1.339,"n":-25},{"k":1,"E":-1.317,"n":-25},
{"k":0,"E":-1.333,"n":-26},{"k":0.1,"E":-1.304,"n":-26},{"k":0.2,"E":-1.262,"n":-26},{"k":0.3,"E":-1.28,"n":-26},{"k":0.4,"E":-1.35,"n":-26},{"k":0.5,"E":-1.39,"n":-26},{"k":0.6,"E":-1.35,"n":-26},{"k":0.7,"E":-1.28,"n":-26},{"k":0.8,"E":-1.262,"n":-26},{"k":0.9,"E":-1.304,"n":-26},{"k":1,"E":-1.333,"n":-26},
{"k":0,"E":-1.358,"n":-27},{"k":0.1,"E":-1.375,"n":-27},{"k":0.2,"E":-1.399,"n":-27},{"k":0.3,"E":-1.387,"n":-27},{"k":0.4,"E":-1.344,"n":-27},{"k":0.5,"E":-1.32,"n":-27},{"k":0.6,"E":-1.344,"n":-27},{"k":0.7,"E":-1.387,"n":-27},{"k":0.8,"E":-1.399,"n":-27},{"k":0.9,"E":-1.375,"n":-27},{"k":1,"E":-1.358,"n":-27},
{"k":0,"E":-1.386,"n":-28},{"k":0.1,"E":-1.406,"n":-28},{"k":0.2,"E":-1.46,"n":-28},{"k":0.3,"E":-1.526,"n":-28},{"k":0.4,"E":-1.58,"n":-28},{"k":0.5,"E":-1.6,"n":-28},{"k":0.6,"E":-1.58,"n":-28},{"k":0.7,"E":-1.526,"n":-28},{"k":0.8,"E":-1.46,"n":-28},{"k":0.9,"E":-1.406,"n":-28},{"k":1,"E":-1.386,"n":-28},
{"k":0,"E":-1.406,"n":-29},{"k":0.1,"E":-1.386,"n":-29},{"k":0.2,"E":-1.359,"n":-29},{"k":0.3,"E":-1.382,"n":-29},{"k":0.4,"E":-1.445,"n":-29},{"k":0.5,"E":-1.48,"n":-29},{"k":0.6,"E":-1.445,"n":-29},{"k":0.7,"E":-1.382,"n":-29},{"k":0.8,"E":-1.359,"n":-29},{"k":0.9,"E":-1.386,"n":-29},{"k":1,"E":-1.406,"n":-29},
{"k":0,"E":-1.427,"n":-30},{"k":0.1,"E":-1.432,"n":-30},{"k":0.2,"E":-1.428,"n":-30},{"k":0.3,"E":-1.389,"n":-30},{"k":0.4,"E":-1.329,"n":-30},{"k":0.5,"E":-1.3,"n":-30},{"k":0.6,"E":-1.329,"n":-30},{"k":0.7,"E":-1.389,"n":-30},{"k":0.8,"E":-1.428,"n":-30},{"k":0.9,"E":-1.432,"n":-30},{"k":1,"E":-1.427,"n":-30},
{"k":0,"E":-1.44,"n":-31},{"k":0.1,"E":-1.443,"n":-31},{"k":0.2,"E":-1.467,"n":-31},{"k":0.3,"E":-1.532,"n":-31},{"k":0.4,"E":-1.613,"n":-31},{"k":0.5,"E":-1.65,"n":-31},{"k":0.6,"E":-1.613,"n":-31},{"k":0.7,"E":-1.532,"n":-31},{"k":0.8,"E":-1.467,"n":-31},{"k":0.9,"E":-1.443,"n":-31},{"k":1,"E":-1.44,"n":-31},
{"k":0,"E":-1.46,"n":-32},{"k":0.1,"E":-1.464,"n":-32},{"k":0.2,"E":-1.462,"n":-32},{"k":0.3,"E":-1.431,"n":-32},{"k":0.4,"E":-1.383,"n":-32},{"k":0.5,"E":-1.36,"n":-32},{"k":0.6,"E":-1.383,"n":-32},{"k":0.7,"E":-1.431,"n":-32},{"k":0.8,"E":-1.462,"n":-32},{"k":0.9,"E":-1.464,"n":-32},{"k":1,"E":-1.46,"n":-32},
{"k":0,"E":-1.48,"n":-33},{"k":0.1,"E":-1.501,"n":-33},{"k":0.2,"E":-1.556,"n":-33},{"k":0.3,"E":-1.624,"n":-33},{"k":0.4,"E":-1.679,"n":-33},{"k":0.5,"E":-1.7,"n":-33},{"k":0.6,"E":-1.679,"n":-33},{"k":0.7,"E":-1.624,"n":-33},{"k":0.8,"E":-1.556,"n":-33},{"k":0.9,"E":-1.501,"n":-33},{"k":1,"E":-1.48,"n":-33},
{"k":0,"E":-1.55,"n":-34},{"k":0.1,"E":-1.54,"n":-34},{"k":0.2,"E":-1.495,"n":-34},{"k":0.3,"E":-1.405,"n":-34},{"k":0.4,"E":-1.305,"n":-34},{"k":0.5,"E":-1.26,"n":-34},{"k":0.6,"E":-1.305,"n":-34},{"k":0.7,"E":-1.405,"n":-34},{"k":0.8,"E":-1.495,"n":-34},{"k":0.9,"E":-1.54,"n":-34},{"k":1,"E":-1.55,"n":-34},
{"k":0,"E":-1.6,"n":-35},{"k":0.1,"E":-1.551,"n":-35},{"k":0.2,"E":-1.458,"n":-35},{"k":0.3,"E":-1.411,"n":-35},{"k":0.4,"E":-1.43,"n":-35},{"k":0.5,"E":-1.45,"n":-35},{"k":0.6,"E":-1.43,"n":-35},{"k":0.7,"E":-1.411,"n":-35},{"k":0.8,"E":-1.458,"n":-35},{"k":0.9,"E":-1.551,"n":-35},{"k":1,"E":-1.6,"n":-35},
{"k":0,"E":-1.65,"n":-36},{"k":0.1,"E":-1.625,"n":-36},{"k":0.2,"E":-1.56,"n":-36},{"k":0.3,"E":-1.48,"n":-36},{"k":0.4,"E":-1.415,"n":-36},{"k":0.5,"E":-1.39,"n":-36},{"k":0.6,"E":-1.415,"n":-36},{"k":0.7,"E":-1.48,"n":-36},{"k":0.8,"E":-1.56,"n":-36},{"k":0.9,"E":-1.625,"n":-36},{"k":1,"E":-1.65,"n":-36},
{"k":0,"E":-1.7,"n":-37},{"k":0.1,"E":-1.662,"n":-37},{"k":0.2,"E":-1.579,"n":-37},{"k":0.3,"E":-1.511,"n":-37},{"k":0.4,"E":-1.484,"n":-37},{"k":0.5,"E":-1.48,"n":-37},{"k":0.6,"E":-1.484,"n":-37},{"k":0.7,"E":-1.511,"n":-37},{"k":0.8,"E":-1.579,"n":-37},{"k":0.9,"E":-1.662,"n":-37},{"k":1,"E":-1.7,"n":-37},
{"k":0,"E":-1.58,"n":-38},{"k":0.1,"E":-1.522,"n":-38},{"k":0.2,"E":-1.424,"n":-38},{"k":0.3,"E":-1.405,"n":-38},{"k":0.4,"E":-1.474,"n":-38},{"k":0.5,"E":-1.52,"n":-38},{"k":0.6,"E":-1.474,"n":-38},{"k":0.7,"E":-1.405,"n":-38},{"k":0.8,"E":-1.424,"n":-38},{"k":0.9,"E":-1.522,"n":-38},{"k":1,"E":-1.58,"n":-38}
]},
"mark": {"type": "line", "clip": true, "color": "#ff0000", "strokeWidth": 3.4, "interpolate": "monotone"},
"encoding": {
"x": {"field": "k", "type": "quantitative", "scale": {"domain": [0, 1], "nice": false, "zero": false},
"axis": {"orient": "bottom", "values": [0,0.05,0.1,0.15,0.2,0.25,0.3,0.35,0.4,0.45,0.5,0.55,0.6,0.65,0.7,0.75,0.8,0.85,0.9,0.95,1], "format": ".1f",
"labelExpr": "abs(datum.value*5-round(datum.value*5))<0.01 ? datum.label : ''",
"labelFont": "Liberation Serif", "labelFontSize": 37, "labelColor": "#ffffff", "labelPadding": 29, "labelOverlap": false, "labelFlush": false,
"tickSize": {"condition": {"test": "abs(datum.value*5-round(datum.value*5))<0.01", "value": -14}, "value": -8},
"tickColor": "#d0d0d0", "tickWidth": 1.5, "domainColor": "#b0b0b0", "domainWidth": 2, "grid": false, "zindex": 1,
"title": "kz /π", "titleFont": "Liberation Serif", "titleFontStyle": "italic", "titleFontWeight": "normal", "titleFontSize": 36, "titleColor": "#ffffff", "titlePadding": 26}},
"y": {"field": "E", "type": "quantitative", "scale": {"domain": [-1.5, 1.5], "nice": false, "zero": false},
"axis": {"orient": "left", "values": [-1.5,-1.4,-1.3,-1.2,-1.1,-1,-0.9,-0.8,-0.7,-0.6,-0.5,-0.4,-0.3,-0.2,-0.1,0,0.1,0.2,0.3,0.4,0.5,0.6,0.7,0.8,0.9,1,1.1,1.2,1.3,1.4,1.5], "format": ".1f",
"labelExpr": "abs(datum.value*2-round(datum.value*2))<0.01 ? datum.label : ''",
"labelFont": "Liberation Serif", "labelFontSize": 37, "labelColor": "#ffffff", "labelPadding": 27, "labelOverlap": false, "labelFlush": false,
"tickSize": {"condition": {"test": "abs(datum.value*2-round(datum.value*2))<0.01", "value": -14}, "value": -8},
"tickColor": "#d0d0d0", "tickWidth": 1.5, "domainColor": "#b0b0b0", "domainWidth": 2, "grid": false, "zindex": 1, "title": null}},
"detail": {"field": "n", "type": "nominal"}
}
},
{
"data": {"values": [{"E": 0}]},
"mark": {"type": "rule", "color": "#c8c8c8", "strokeWidth": 2},
"encoding": {"y": {"field": "E", "type": "quantitative", "axis": null}}
},
{
"data": {"values": [{"k": 0.483, "E": -0.215, "t": "b=0"}]},
"mark": {"type": "text", "font": "Noto Sans", "fontStyle": "italic", "fontSize": 87, "color": "#ff2b00", "align": "center", "baseline": "middle"},
"encoding": {
"x": {"field": "k", "type": "quantitative",
"axis": {"orient": "top", "values": [0,0.05,0.1,0.15,0.2,0.25,0.3,0.35,0.4,0.45,0.5,0.55,0.6,0.65,0.7,0.75,0.8,0.85,0.9,0.95,1], "labels": false, "title": null,
"tickSize": {"condition": {"test": "abs(datum.value*5-round(datum.value*5))<0.01", "value": -14}, "value": -8},
"tickColor": "#d0d0d0", "tickWidth": 1.5, "domainColor": "#a0a0a0", "domainWidth": 2, "grid": false, "zindex": 1}},
"y": {"field": "E", "type": "quantitative",
"axis": {"orient": "right", "values": [-1.5,-1.4,-1.3,-1.2,-1.1,-1,-0.9,-0.8,-0.7,-0.6,-0.5,-0.4,-0.3,-0.2,-0.1,0,0.1,0.2,0.3,0.4,0.5,0.6,0.7,0.8,0.9,1,1.1,1.2,1.3,1.4,1.5], "format": ".1f",
"labelExpr": "abs(datum.value*2-round(datum.value*2))<0.01 ? datum.label : ''",
"labelFont": "Liberation Serif", "labelFontSize": 37, "labelColor": "#ffffff", "labelAlign": "right", "labelPadding": 99, "labelOverlap": false, "labelFlush": false,
"tickSize": {"condition": {"test": "abs(datum.value*2-round(datum.value*2))<0.01", "value": -14}, "value": -8},
"tickColor": "#d0d0d0", "tickWidth": 1.5, "domainColor": "#b0b0b0", "domainWidth": 2, "grid": false, "zindex": 1,
"title": "E", "titleFont": "Liberation Serif", "titleFontStyle": "italic", "titleFontWeight": "normal", "titleFontSize": 34, "titleColor": "#ffffff", "titleAngle": -90, "titleX": -25, "titleY": 369, "titleAlign": "center", "titleBaseline": "middle"}},
"text": {"field": "t"}
}
}
]
}
